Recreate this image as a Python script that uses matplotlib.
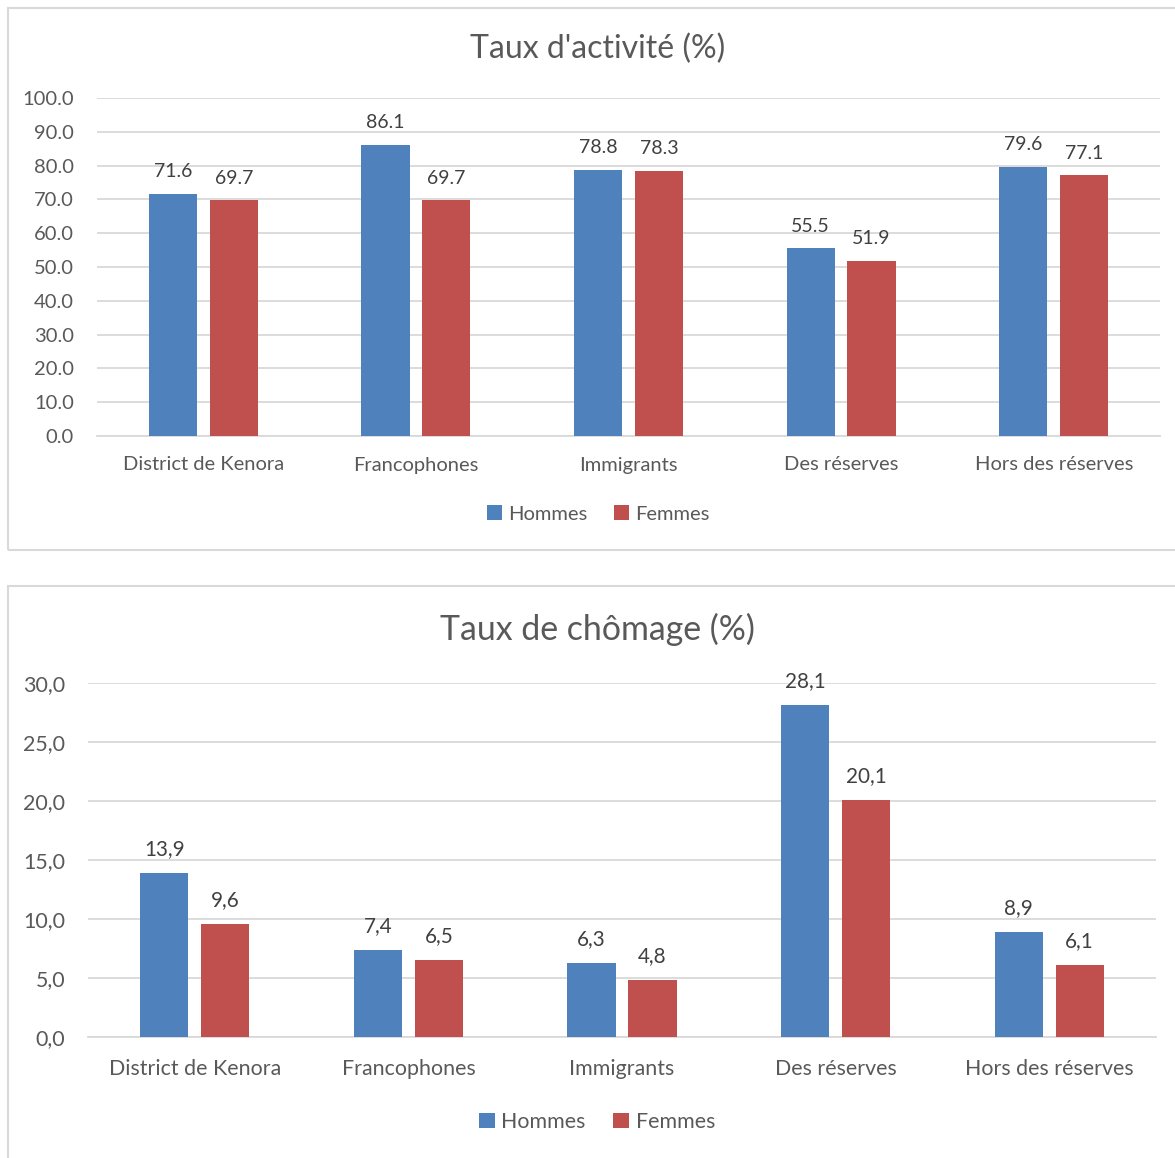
import matplotlib
matplotlib.use("Agg")
import matplotlib.pyplot as plt
import matplotlib.transforms as mtransforms
from matplotlib.patches import Rectangle
import numpy as np

categories = ["District de Kenora", "Francophones", "Immigrants", "Des réserves", "Hors des réserves"]
activite_hommes = [71.6, 86.1, 78.8, 55.5, 79.6]
activite_femmes = [69.7, 69.7, 78.3, 51.9, 77.1]
chomage_hommes = [13.9, 7.4, 6.3, 28.1, 8.9]
chomage_femmes = [9.6, 6.5, 4.8, 20.1, 6.1]
series_names = ["Hommes", "Femmes"]

BLUE = "#4F81BD"
RED = "#C0504D"
TEXT = "#595959"
GRID = "#D9D9D9"

plt.rcParams["font.family"] = ["Lato", "DejaVu Sans"]

W, H = 1175, 1158
fig = plt.figure(figsize=(W / 100, H / 100), dpi=100)


def px_rect(x0, y0, x1, y1):
    return [x0 / W, 1 - y1 / H, (x1 - x0) / W, (y1 - y0) / H]


def frame(x0, y0, x1, y1):
    fig.patches.append(Rectangle((x0 / W, 1 - y1 / H), (x1 - x0) / W, (y1 - y0) / H,
                                 transform=fig.transFigure, fill=False,
                                 edgecolor="#D9D9D9", linewidth=1.5))


def chart(ax_px, hommes, femmes, ymax, step, fmt, title, title_y, cat_y, leg_y,
          center_x, scale=1.0):
    ax = fig.add_axes(px_rect(*ax_px))
    x = np.arange(len(categories))
    w = 0.226
    off = 0.143
    b1 = ax.bar(x - off, hommes, w, color=BLUE, label=series_names[0], zorder=3)
    b2 = ax.bar(x + off, femmes, w, color=RED, label=series_names[1], zorder=3)
    for bars, vals in ((b1, hommes), (b2, femmes)):
        for r, v in zip(bars, vals):
            ax.annotate(fmt(v), (r.get_x() + r.get_width() / 2, v),
                        xytext=(0, 10), textcoords="offset points",
                        ha="center", va="bottom", fontsize=14 * scale, color="#404040")
    ax.set_xlim(-0.5, len(categories) - 0.5)
    ax.set_ylim(0, ymax)
    ticks = np.arange(0, ymax + step / 2, step)
    ax.set_yticks(ticks)
    ax.set_yticklabels([fmt(t) for t in ticks], fontsize=14.5 * scale, color=TEXT)
    ax.yaxis.grid(True, color=GRID, linewidth=1.3, zorder=0)
    ax.set_axisbelow(True)
    for s in ("top", "right", "left"):
        ax.spines[s].set_visible(False)
    ax.spines["bottom"].set_color(GRID)
    ax.spines["bottom"].set_linewidth(1.3)
    ax.tick_params(axis="y", length=0, pad=16.5)
    ax.tick_params(axis="x", length=0)
    ax.set_xticks(x)
    ax.set_xticklabels([])
    # category labels placed in pixel space below the axis
    trans = mtransforms.blended_transform_factory(ax.transData, fig.transFigure)
    for xi, c in zip(x, categories):
        ax.text(xi, 1 - cat_y / H, c, transform=trans, ha="center", va="center",
                fontsize=14.5 * scale, color=TEXT)
    fig.text(center_x / W, 1 - title_y / H, title,
             ha="center", va="center", fontsize=23 * scale, color=TEXT)
    fig.legend(handles=[b1, b2], labels=series_names, loc="center",
               bbox_to_anchor=(center_x / W, 1 - leg_y / H),
               ncol=2, frameon=False, fontsize=14.5 * scale, handlelength=0.75,
               handleheight=0.75, handletextpad=0.3, columnspacing=1.3, labelcolor=TEXT)
    return ax


frame(8, 8, 1190, 550)
frame(8, 586, 1190, 1175)

chart((97, 98, 1160, 436), activite_hommes, activite_femmes, 100, 10,
      lambda v: f"{v:.1f}", "Taux d'activité (%)", 49, 465, 514, 598)
chart((88, 683, 1156, 1037), chomage_hommes, chomage_femmes, 30, 5,
      lambda v: f"{v:.1f}".replace(".", ","), "Taux de chômage (%)", 629, 1069, 1122, 597,
      scale=1.06)

fig.savefig("out.png", dpi=100, facecolor="white")
